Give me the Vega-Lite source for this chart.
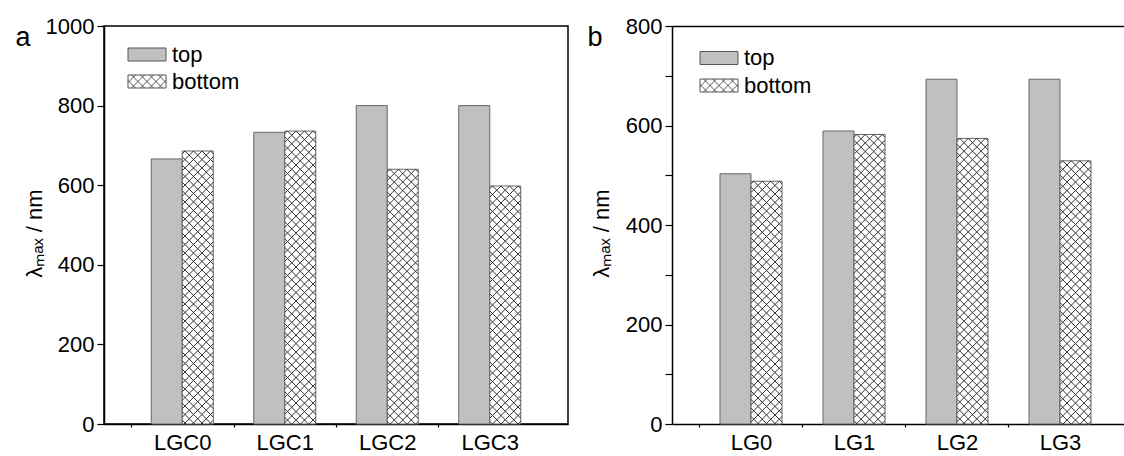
{
  "$schema": "https://vega.github.io/schema/vega-lite/v6.json",
  "background": "white",
  "padding": {"left": 14, "top": 14, "right": 0, "bottom": 0},
  "datasets": {
    "a": [
      {"name": "LGC0", "series": "top", "value": 666},
      {"name": "LGC0", "series": "bottom", "value": 686},
      {"name": "LGC1", "series": "top", "value": 733},
      {"name": "LGC1", "series": "bottom", "value": 736},
      {"name": "LGC2", "series": "top", "value": 800},
      {"name": "LGC2", "series": "bottom", "value": 640},
      {"name": "LGC3", "series": "top", "value": 800},
      {"name": "LGC3", "series": "bottom", "value": 598}
    ],
    "b": [
      {"name": "LG0", "series": "top", "value": 503},
      {"name": "LG0", "series": "bottom", "value": 488},
      {"name": "LG1", "series": "top", "value": 589},
      {"name": "LG1", "series": "bottom", "value": 582},
      {"name": "LG2", "series": "top", "value": 693},
      {"name": "LG2", "series": "bottom", "value": 574},
      {"name": "LG3", "series": "top", "value": 693},
      {"name": "LG3", "series": "bottom", "value": 529}
    ]
  },
  "spacing": 18,
  "hconcat": [
    {
      "width": 464,
      "height": 398,
      "data": {"name": "a"},
      "layer": [
        {
          "mark": {"type": "bar", "stroke": "#666666", "strokeWidth": 1},
          "encoding": {
            "x": {"field": "name", "type": "nominal", "sort": null,
              "scale": {"paddingInner": 0.39512, "paddingOuter": 0.46098},
              "axis": {"title": "a", "titleX": -89, "titleY": -379, "titleAlign": "left", "titleBaseline": "alphabetic", "titleFontSize": 27, "titleAngle": 0,
                "bandPosition": 0, "tickOffset": -20.25, "labelOffset": 20.25, "tickSize": 3, "labelPadding": 5, "labelAngle": 0}},
            "xOffset": {"field": "series", "type": "nominal", "scale": {"domain": ["top", "bottom"]}},
            "y": {"field": "value", "type": "quantitative", "scale": {"domain": [0, 1000], "nice": false},
              "axis": {"values": [0, 100, 200, 300, 400, 500, 600, 700, 800, 900, 1000], "format": "d", "tickSize": 7, "labelPadding": 3,
                "labelExpr": "datum.value % 200 === 0 ? datum.label : ''", "labelOverlap": false,
                "title": "λₘₐₓ / nm", "titleAngle": 270, "titleAlign": "center", "titleBaseline": "alphabetic", "titleX": -63, "titleY": 207,
                "encode": {"ticks": {"update": {"x2": {"signal": "datum.value % 200 === 0 ? -7 : -4"}}}}}},
            "fill": {"field": "series", "type": "nominal", "scale": {"domain": ["top", "bottom"], "range": ["#c0c0c0", "#ffffff"]},
              "legend": {"title": null, "orient": "none", "legendX": 24.5, "legendY": 17.5, "direction": "vertical", "padding": 0,
                "labelFontSize": 22, "labelColor": "black", "symbolSize": 100, "symbolOffset": 7.5, "labelOffset": 14, "rowPadding": 5,
                "symbolStrokeColor": "#555555", "symbolStrokeWidth": 1,
                "encode": {"symbols": {"update": {"shape": [
                  {"test": "datum.value === 'bottom'", "value": "M-3.8,-1.3H3.8V1.3H-3.8Z M-1.3,-1.3L1.3,1.3 M-3.1,-1.3L-0.5,1.3 M0.5,-1.3L3.1,1.3 M-3.8,-0.2L-2.3,1.3 M2.3,-1.3L3.8,0.2 M1.3,-1.3L-1.3,1.3 M3.1,-1.3L0.5,1.3 M-0.5,-1.3L-3.1,1.3 M3.8,-0.2L2.3,1.3 M-2.3,-1.3L-3.8,0.2"},
                  {"value": "M-3.8,-1.3H3.8V1.3H-3.8Z"}]}}}}}
          }
        },
        {
          "transform": [{"filter": "datum.series === 'bottom'"}],
          "mark": {"type": "point", "filled": false, "size": 4, "stroke": "#333333", "strokeWidth": 1, "opacity": 1, "clip": true,
            "shape": "M12.75,0L15.5,2.75M4.25,0L15.5,11.25M-4.25,0L15.5,19.75M-12.75,0L15.5,28.25M-12.75,0L-15.5,2.75M-4.25,0L-15.5,11.25M4.25,0L-15.5,19.75M12.75,0L-15.5,28.25M-15.5,5.75l31,31M-15.5,14.25l31,31M-15.5,22.75l31,31M-15.5,31.25l31,31M-15.5,39.75l31,31M-15.5,48.25l31,31M-15.5,56.75l31,31M-15.5,65.25l31,31M-15.5,73.75l31,31M-15.5,82.25l31,31M-15.5,90.75l31,31M-15.5,99.25l31,31M-15.5,107.75l31,31M-15.5,116.25l31,31M-15.5,124.75l31,31M-15.5,133.25l31,31M-15.5,141.75l31,31M-15.5,150.25l31,31M-15.5,158.75l31,31M-15.5,167.25l31,31M-15.5,175.75l31,31M-15.5,184.25l31,31M-15.5,192.75l31,31M-15.5,201.25l31,31M-15.5,209.75l31,31M-15.5,218.25l31,31M-15.5,226.75l31,31M-15.5,235.25l31,31M-15.5,243.75l31,31M-15.5,252.25l31,31M-15.5,260.75l31,31M-15.5,269.25l31,31M-15.5,277.75l31,31M-15.5,286.25l31,31M-15.5,294.75l31,31M15.5,5.75l-31,31M15.5,14.25l-31,31M15.5,22.75l-31,31M15.5,31.25l-31,31M15.5,39.75l-31,31M15.5,48.25l-31,31M15.5,56.75l-31,31M15.5,65.25l-31,31M15.5,73.75l-31,31M15.5,82.25l-31,31M15.5,90.75l-31,31M15.5,99.25l-31,31M15.5,107.75l-31,31M15.5,116.25l-31,31M15.5,124.75l-31,31M15.5,133.25l-31,31M15.5,141.75l-31,31M15.5,150.25l-31,31M15.5,158.75l-31,31M15.5,167.25l-31,31M15.5,175.75l-31,31M15.5,184.25l-31,31M15.5,192.75l-31,31M15.5,201.25l-31,31M15.5,209.75l-31,31M15.5,218.25l-31,31M15.5,226.75l-31,31M15.5,235.25l-31,31M15.5,243.75l-31,31M15.5,252.25l-31,31M15.5,260.75l-31,31M15.5,269.25l-31,31M15.5,277.75l-31,31M15.5,286.25l-31,31M15.5,294.75l-31,31"},
          "encoding": {
            "x": {"field": "name", "type": "nominal", "sort": null},
            "xOffset": {"field": "series", "type": "nominal"},
            "y": {"field": "value", "type": "quantitative"}
          }
        }
      ]
    },
    {
      "width": 457,
      "height": 398,
      "view": {"stroke": null},
      "data": {"name": "b"},
      "resolve": {"axis": {"x": "independent"}},
      "layer": [
        {
          "mark": {"type": "bar", "stroke": "#666666", "strokeWidth": 1},
          "encoding": {
            "x": {"field": "name", "type": "nominal", "sort": null,
              "scale": {"paddingInner": 0.39806, "paddingOuter": 0.41748, "align": 0.558},
              "axis": {"title": "b", "titleX": -85, "titleY": -379, "titleAlign": "left", "titleBaseline": "alphabetic", "titleFontSize": 27, "titleAngle": 0,
                "bandPosition": 0, "tickOffset": -20.5, "labelOffset": 20.5, "tickSize": 3, "labelPadding": 5, "labelAngle": 0}},
            "xOffset": {"field": "series", "type": "nominal", "scale": {"domain": ["top", "bottom"]}},
            "y": {"field": "value", "type": "quantitative", "scale": {"domain": [0, 800], "nice": false},
              "axis": {"values": [0, 100, 200, 300, 400, 500, 600, 700, 800], "format": "d", "tickSize": 7, "labelPadding": 3,
                "labelExpr": "datum.value % 200 === 0 ? datum.label : ''", "labelOverlap": false,
                "title": "λₘₐₓ / nm", "titleAngle": 270, "titleAlign": "center", "titleBaseline": "alphabetic", "titleX": -64, "titleY": 207,
                "encode": {"ticks": {"update": {"x2": {"signal": "datum.value % 200 === 0 ? -7 : -4"}}}}}},
            "fill": {"field": "series", "type": "nominal", "scale": {"domain": ["top", "bottom"], "range": ["#c0c0c0", "#ffffff"]},
              "legend": {"title": null, "orient": "none", "legendX": 28.5, "legendY": 21, "direction": "vertical", "padding": 0,
                "labelFontSize": 22, "labelColor": "black", "symbolSize": 100, "symbolOffset": 7.5, "labelOffset": 14, "rowPadding": 5.5,
                "symbolStrokeColor": "#555555", "symbolStrokeWidth": 1,
                "encode": {"symbols": {"update": {"shape": [
                  {"test": "datum.value === 'bottom'", "value": "M-3.8,-1.3H3.8V1.3H-3.8Z M-1.3,-1.3L1.3,1.3 M-3.1,-1.3L-0.5,1.3 M0.5,-1.3L3.1,1.3 M-3.8,-0.2L-2.3,1.3 M2.3,-1.3L3.8,0.2 M1.3,-1.3L-1.3,1.3 M3.1,-1.3L0.5,1.3 M-0.5,-1.3L-3.1,1.3 M3.8,-0.2L2.3,1.3 M-2.3,-1.3L-3.8,0.2"},
                  {"value": "M-3.8,-1.3H3.8V1.3H-3.8Z"}]}}}}}
          }
        },
        {
          "transform": [{"filter": "datum.series === 'bottom'"}],
          "mark": {"type": "point", "filled": false, "size": 4, "stroke": "#333333", "strokeWidth": 1, "opacity": 1, "clip": true,
            "shape": "M12.75,0L15.5,2.75M4.25,0L15.5,11.25M-4.25,0L15.5,19.75M-12.75,0L15.5,28.25M-12.75,0L-15.5,2.75M-4.25,0L-15.5,11.25M4.25,0L-15.5,19.75M12.75,0L-15.5,28.25M-15.5,5.75l31,31M-15.5,14.25l31,31M-15.5,22.75l31,31M-15.5,31.25l31,31M-15.5,39.75l31,31M-15.5,48.25l31,31M-15.5,56.75l31,31M-15.5,65.25l31,31M-15.5,73.75l31,31M-15.5,82.25l31,31M-15.5,90.75l31,31M-15.5,99.25l31,31M-15.5,107.75l31,31M-15.5,116.25l31,31M-15.5,124.75l31,31M-15.5,133.25l31,31M-15.5,141.75l31,31M-15.5,150.25l31,31M-15.5,158.75l31,31M-15.5,167.25l31,31M-15.5,175.75l31,31M-15.5,184.25l31,31M-15.5,192.75l31,31M-15.5,201.25l31,31M-15.5,209.75l31,31M-15.5,218.25l31,31M-15.5,226.75l31,31M-15.5,235.25l31,31M-15.5,243.75l31,31M-15.5,252.25l31,31M-15.5,260.75l31,31M-15.5,269.25l31,31M-15.5,277.75l31,31M-15.5,286.25l31,31M-15.5,294.75l31,31M15.5,5.75l-31,31M15.5,14.25l-31,31M15.5,22.75l-31,31M15.5,31.25l-31,31M15.5,39.75l-31,31M15.5,48.25l-31,31M15.5,56.75l-31,31M15.5,65.25l-31,31M15.5,73.75l-31,31M15.5,82.25l-31,31M15.5,90.75l-31,31M15.5,99.25l-31,31M15.5,107.75l-31,31M15.5,116.25l-31,31M15.5,124.75l-31,31M15.5,133.25l-31,31M15.5,141.75l-31,31M15.5,150.25l-31,31M15.5,158.75l-31,31M15.5,167.25l-31,31M15.5,175.75l-31,31M15.5,184.25l-31,31M15.5,192.75l-31,31M15.5,201.25l-31,31M15.5,209.75l-31,31M15.5,218.25l-31,31M15.5,226.75l-31,31M15.5,235.25l-31,31M15.5,243.75l-31,31M15.5,252.25l-31,31M15.5,260.75l-31,31M15.5,269.25l-31,31M15.5,277.75l-31,31M15.5,286.25l-31,31M15.5,294.75l-31,31"},
          "encoding": {
            "x": {"field": "name", "type": "nominal", "sort": null,
              "axis": {"orient": "top", "title": null, "labels": false, "ticks": false, "domain": true}},
            "xOffset": {"field": "series", "type": "nominal"},
            "y": {"field": "value", "type": "quantitative"}
          }
        }
      ]
    }
  ],
  "resolve": {
    "scale": {"x": "independent", "y": "independent", "xOffset": "independent", "fill": "independent"},
    "legend": {"fill": "independent"},
    "axis": {"x": "independent", "y": "independent"}
  },
  "config": {
    "font": "Liberation Sans",
    "view": {"stroke": "black", "strokeWidth": 1.5},
    "axis": {"domainColor": "black", "domainWidth": 1.5, "tickColor": "black", "tickWidth": 1.2, "labelColor": "black", "labelFontSize": 22, "titleColor": "black", "titleFontSize": 22, "titleFontWeight": "normal", "grid": false},
    "legend": {"labelFont": "Liberation Sans"}
  }
}
